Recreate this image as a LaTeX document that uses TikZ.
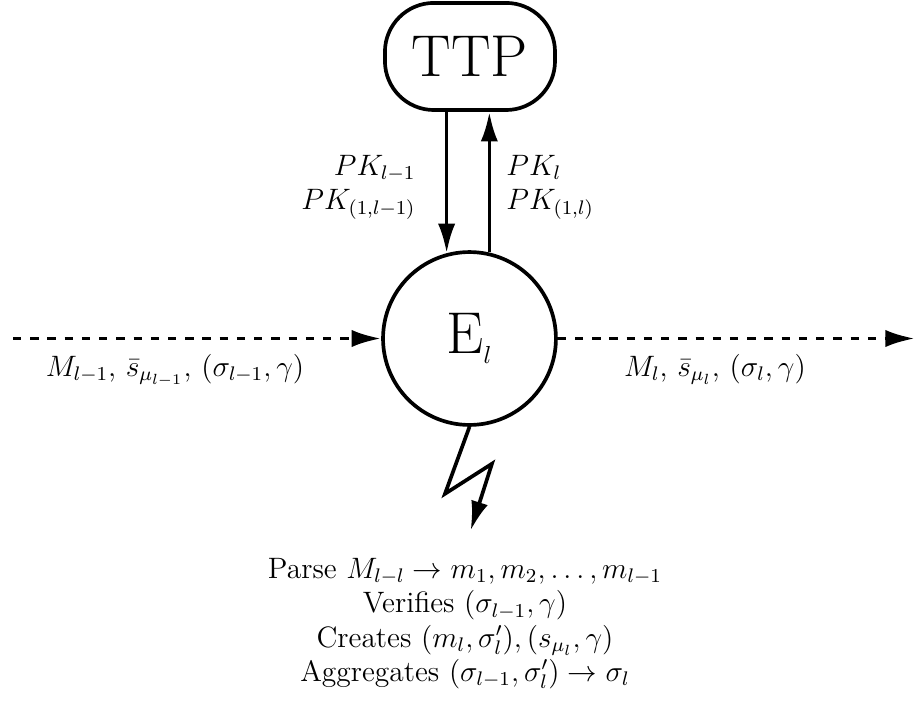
\documentclass[tikz,border=0pt]{standalone}
\usetikzlibrary{arrows.meta,positioning}
\begin{document}
\begin{tikzpicture}[>={Latex[length=12pt,width=7pt]},line width=1.5pt,font=\large,
		party/.style={draw,rounded corners=0.7cm,minimum width=2.43cm,minimum height=1.53cm,font=\fontsize{24}{28}\selectfont},
		entity/.style={draw,circle,minimum size=2.47cm,inner sep=0pt},
		flow/.style={->,dash pattern=on 3.4pt off 3.6pt},
		bolt/.style={->,shorten >=0.26cm}]
			\useasboundingbox (0,0) rectangle (13.086,10.243);
			
			\node[party] (ttp) at (6.714,9.436) {TTP};
			\node[entity] (el) at (6.707,5.407) {\fontsize{24}{28}\selectfont E\fontsize{14.4}{17}\selectfont\raisebox{-2pt}{$_l$}};
			\node[anchor=north,align=center] (tasks) at (6.643,2.414) {Parse $M_{l-l} \rightarrow m_1, m_2, \ldots, m_{l-1}$\\
				Verifies $(\sigma_{l-1}, \gamma)$\\
				Creates $(m_l, \sigma'_l), (s_{\mu_l}, \gamma)$\\
				Aggregates $(\sigma_{l-1}, \sigma'_l) \rightarrow \sigma_l$};
			\coordinate (src) at (0.186,5.407);
			\coordinate (dst) at (13.07,5.407);
			
			\draw[->] (ttp.south -| el.105) -- (el.105) node[midway,left,xshift=-0.3cm,yshift=-0.07cm,align=right]{$PK_{l-1}$\\$PK_{(1,l-1)}$};
			\draw[->] (el.77) -- (ttp.south -| el.77) node[midway,right,xshift=0.1cm,yshift=-0.07cm,align=left]{$PK_l$\\$PK_{(1,l)}$};
			
			\draw[flow] (src) -- (el) node[below,pos=0.44,yshift=-0.08cm]{$M_{l-1}$, $\bar{s}_{\mu_{l-1}}$, $(\sigma_{l-1}, \gamma)$};
			\draw[flow] (el) -- (dst) node[below,pos=0.44,yshift=-0.08cm]{$M_l$, $\bar{s}_{\mu_l}$, $(\sigma_l, \gamma)$};
			
			\draw[bolt] (el.south) -- ++(-0.35,-0.957) -- ++(0.671,0.429) -- (tasks.north);
		\end{tikzpicture}
\end{document}
